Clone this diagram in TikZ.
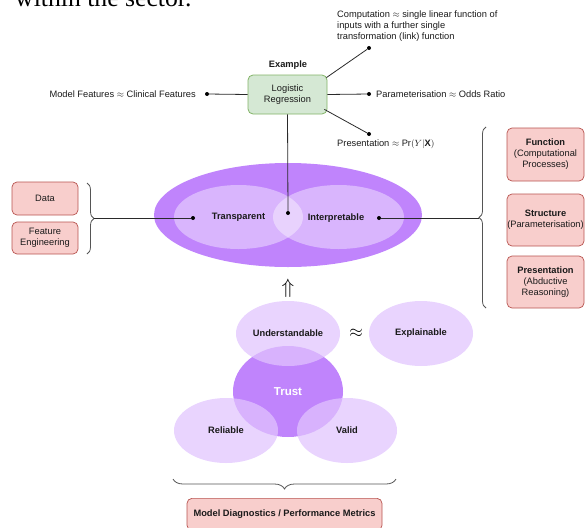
\documentclass[tikz,border=0pt]{standalone}
\usepackage{fontspec}
\setmainfont{Liberation Sans}
\newfontfamily\serifbody{Liberation Serif}
\usetikzlibrary{decorations.pathreplacing,shapes.geometric}
\definecolor{gfill}{HTML}{D5E8D4}
\definecolor{gdraw}{HTML}{82B366}
\definecolor{rfill}{HTML}{F8CECC}
\definecolor{rdraw}{HTML}{B85450}
\definecolor{purp}{RGB}{192,132,252}
\definecolor{lilac}{RGB}{225,196,254}
\definecolor{ink}{HTML}{1A1A1A}
\definecolor{linec}{HTML}{2A2A2A}
\definecolor{bracec}{HTML}{555555}
\begin{document}
\begin{tikzpicture}[x=1pt,y=-1pt,
  txt/.style={font=\fontsize{9.3}{11}\selectfont, text=ink, inner sep=0pt},
  btxt/.style={font=\fontsize{9.3}{11}\selectfont\bfseries, text=ink, inner sep=0pt},
  greenbox/.style={draw=gdraw, fill=gfill, rounded corners=5pt, line width=0.8pt, align=center, txt},
  redbox/.style={draw=rdraw, fill=rfill, rounded corners=5pt, line width=0.7pt, align=center, txt},
  dotnode/.style={circle, fill=black, draw=none, inner sep=0pt, minimum size=4pt},
  conn/.style={draw=linec, line width=0.8pt},
  bracest/.style={draw=bracec, line width=0.8pt, decorate, decoration={brace, amplitude=7pt}},
  oval/.style={ellipse, inner sep=0pt, draw=none, text opacity=1},
  lightoval/.style={oval, fill=lilac, fill opacity=0.73, btxt},
  inneroval/.style={oval, fill=white, fill opacity=0.4, btxt},
]
\useasboundingbox (0,0) rectangle (585,527);
\clip (0,0) rectangle (585,527);

% clipped body text at the top
\node[anchor=base west, inner sep=0pt, font=\serifbody\fontsize{25.7}{30}\selectfont] (bodytext) at (15,7) {within the sector.};

% ---------- example block ----------
\node[btxt] (example) at (288,65) {Example};
\node[greenbox, minimum width=79pt, minimum height=39pt] (lr) at (287.5,94.5) {Logistic\\Regression};

\node[dotnode] (dl) at (207,94) {};
\node[dotnode] (dr) at (369,94) {};
\node[dotnode] (du) at (369,48) {};
\node[dotnode] (dd) at (369,134) {};
\node[txt, anchor=east] (mf) at (196,94) {Model Features $\approx$ Clinical Features};
\node[txt, anchor=west] (par) at (376,94) {Parameterisation $\approx$ Odds Ratio};
\node[txt, anchor=west, align=left] (comp) at (337,26) {Computation $\approx$ single linear function of\\inputs with a further single\\transformation (link) function};
\node[txt, anchor=west] (pres) at (337,144) {Presentation $\approx \mathrm{Pr}(Y|\mathbf{X})$};

% ---------- big ellipse ----------
\node[oval, fill=purp, minimum width=268pt, minimum height=104pt] (outer) at (288,215) {};
\node[inneroval, minimum width=129pt, minimum height=64pt] (transp) at (238.5,217) {Transparent};
\node[inneroval, minimum width=131pt, minimum height=64pt] (interp) at (338.5,217) {};
\node[btxt] (interplbl) at (336,218) {Interpretable};

\node[dotnode] (dc) at (288,213) {};
\node[dotnode] (dt) at (193,218) {};
\node[dotnode] (di) at (379,218) {};

\draw[conn] (lr.south) -- (dc);
\draw[conn] (lr.west) -- (dl);
\draw[conn] (lr.east) -- (dr);
\draw[conn] ([xshift=-1pt,yshift=-3pt]lr.north east) -- (du);
\draw[conn] ([xshift=-3pt,yshift=5pt]lr.south east) -- (dd);

% ---------- left boxes ----------
\node[redbox, minimum width=66pt, minimum height=33pt] (data) at (45,198.5) {Data};
\node[redbox, minimum width=66pt, minimum height=32pt] (fe) at (45,238) {Feature\\Engineering};
\draw[bracest] (87,183) -- (87,254);
\coordinate (lbt) at (94,218);
\draw[conn] (lbt) -- (dt);

% ---------- right boxes ----------
\node[redbox, minimum width=77pt, minimum height=53pt] (fun) at (545.5,154.5) {\textbf{Function}\\(Computational\\Processes)};
\node[redbox, minimum width=77pt, minimum height=52pt] (str) at (545.5,220) {\textbf{Structure}\\(Parameterisation)};
\node[redbox, minimum width=77pt, minimum height=52pt] (prs) at (545.5,282) {\textbf{Presentation}\\(Abductive\\Reasoning)};
\draw[bracest] (486,308) -- (486,127);
\coordinate (rbt) at (479,218);
\draw[conn] (di) -- (rbt);

% ---------- arrow up ----------
\node[inner sep=0pt, font=\fontsize{21}{21}\selectfont] (up) at (288,288) {$\Uparrow$};

% ---------- trust venn ----------
\node[oval, fill=purp, minimum width=110pt, minimum height=91pt] (trust) at (288,391.5) {};
\node[lightoval, minimum width=104pt, minimum height=65pt] (und) at (288,333.5) {Understandable};
\node[lightoval, minimum width=104pt, minimum height=65pt] (expl) at (421,333.5) {Explainable};
\node[lightoval, minimum width=104pt, minimum height=65pt] (rel) at (226,430.5) {Reliable};
\node[lightoval, minimum width=100pt, minimum height=65pt] (val) at (347,430.5) {Valid};
\node[inner sep=0pt, text=white, font=\fontsize{11.5}{12}\selectfont\bfseries] (trustlbl) at (288,392) {Trust};
\node[inner sep=0pt, font=\fontsize{19}{19}\selectfont] (approx) at (356,333) {$\approx$};

% ---------- bottom ----------
\draw[bracest, decoration={brace, amplitude=10pt}] (396,479) -- (173,479);
\node[redbox, font=\fontsize{9.3}{11}\selectfont\bfseries, minimum width=195pt, minimum height=32pt, anchor=north] (mdp) at (284.5,498) {Model Diagnostics / Performance Metrics};
\end{tikzpicture}
\end{document}
